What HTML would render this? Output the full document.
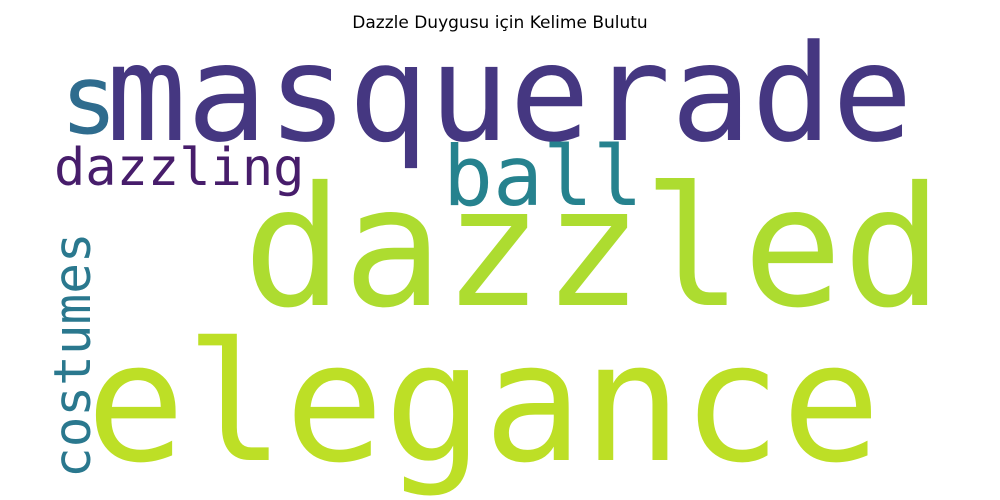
<!DOCTYPE html>
<html><head><meta charset="utf-8"><style>
html,body{margin:0;padding:0;background:#fff;width:1000px;height:500px;overflow:hidden}
svg{display:block}
.w{font-family:"DejaVu Sans Mono","Liberation Mono",monospace}
</style></head><body>
<svg width="1000" height="500">
<text x="500" y="28" text-anchor="middle" font-family="DejaVu Sans, Liberation Sans, sans-serif" font-size="17" fill="#000">Dazzle Duygusu için Kelime Bulutu</text>
<g id="cloud"></g>
</svg>
<script>
const words=["masquerade","s","dazzling","ball","dazzled","elegance","costumes"];
const sizes=[134,96,52,83,166,165,51];
const colors=["#453781","#2f6c8e","#471d6b","#26828e","#addc30","#bddf26","#2a788e"];
const layout=[[106,140,0],[60,133,0],[54,185,0],[443,205,0],[243,305,0],[86,460,0],[90,478,-90]];
const g=document.getElementById('cloud');
const NS='http://www.w3.org/2000/svg';
words.forEach((w,i)=>{
  const t=document.createElementNS(NS,'text');
  const [x,y,r]=layout[i];
  t.setAttribute('x',x);t.setAttribute('y',y);
  t.setAttribute('class','w');
  t.setAttribute('font-size',sizes[i]);
  t.setAttribute('fill',colors[i]);
  if(r)t.setAttribute('transform',`rotate(${r} ${x} ${y})`);
  t.textContent=w;
  
  
  g.appendChild(t);
});
</script>
</body></html>
